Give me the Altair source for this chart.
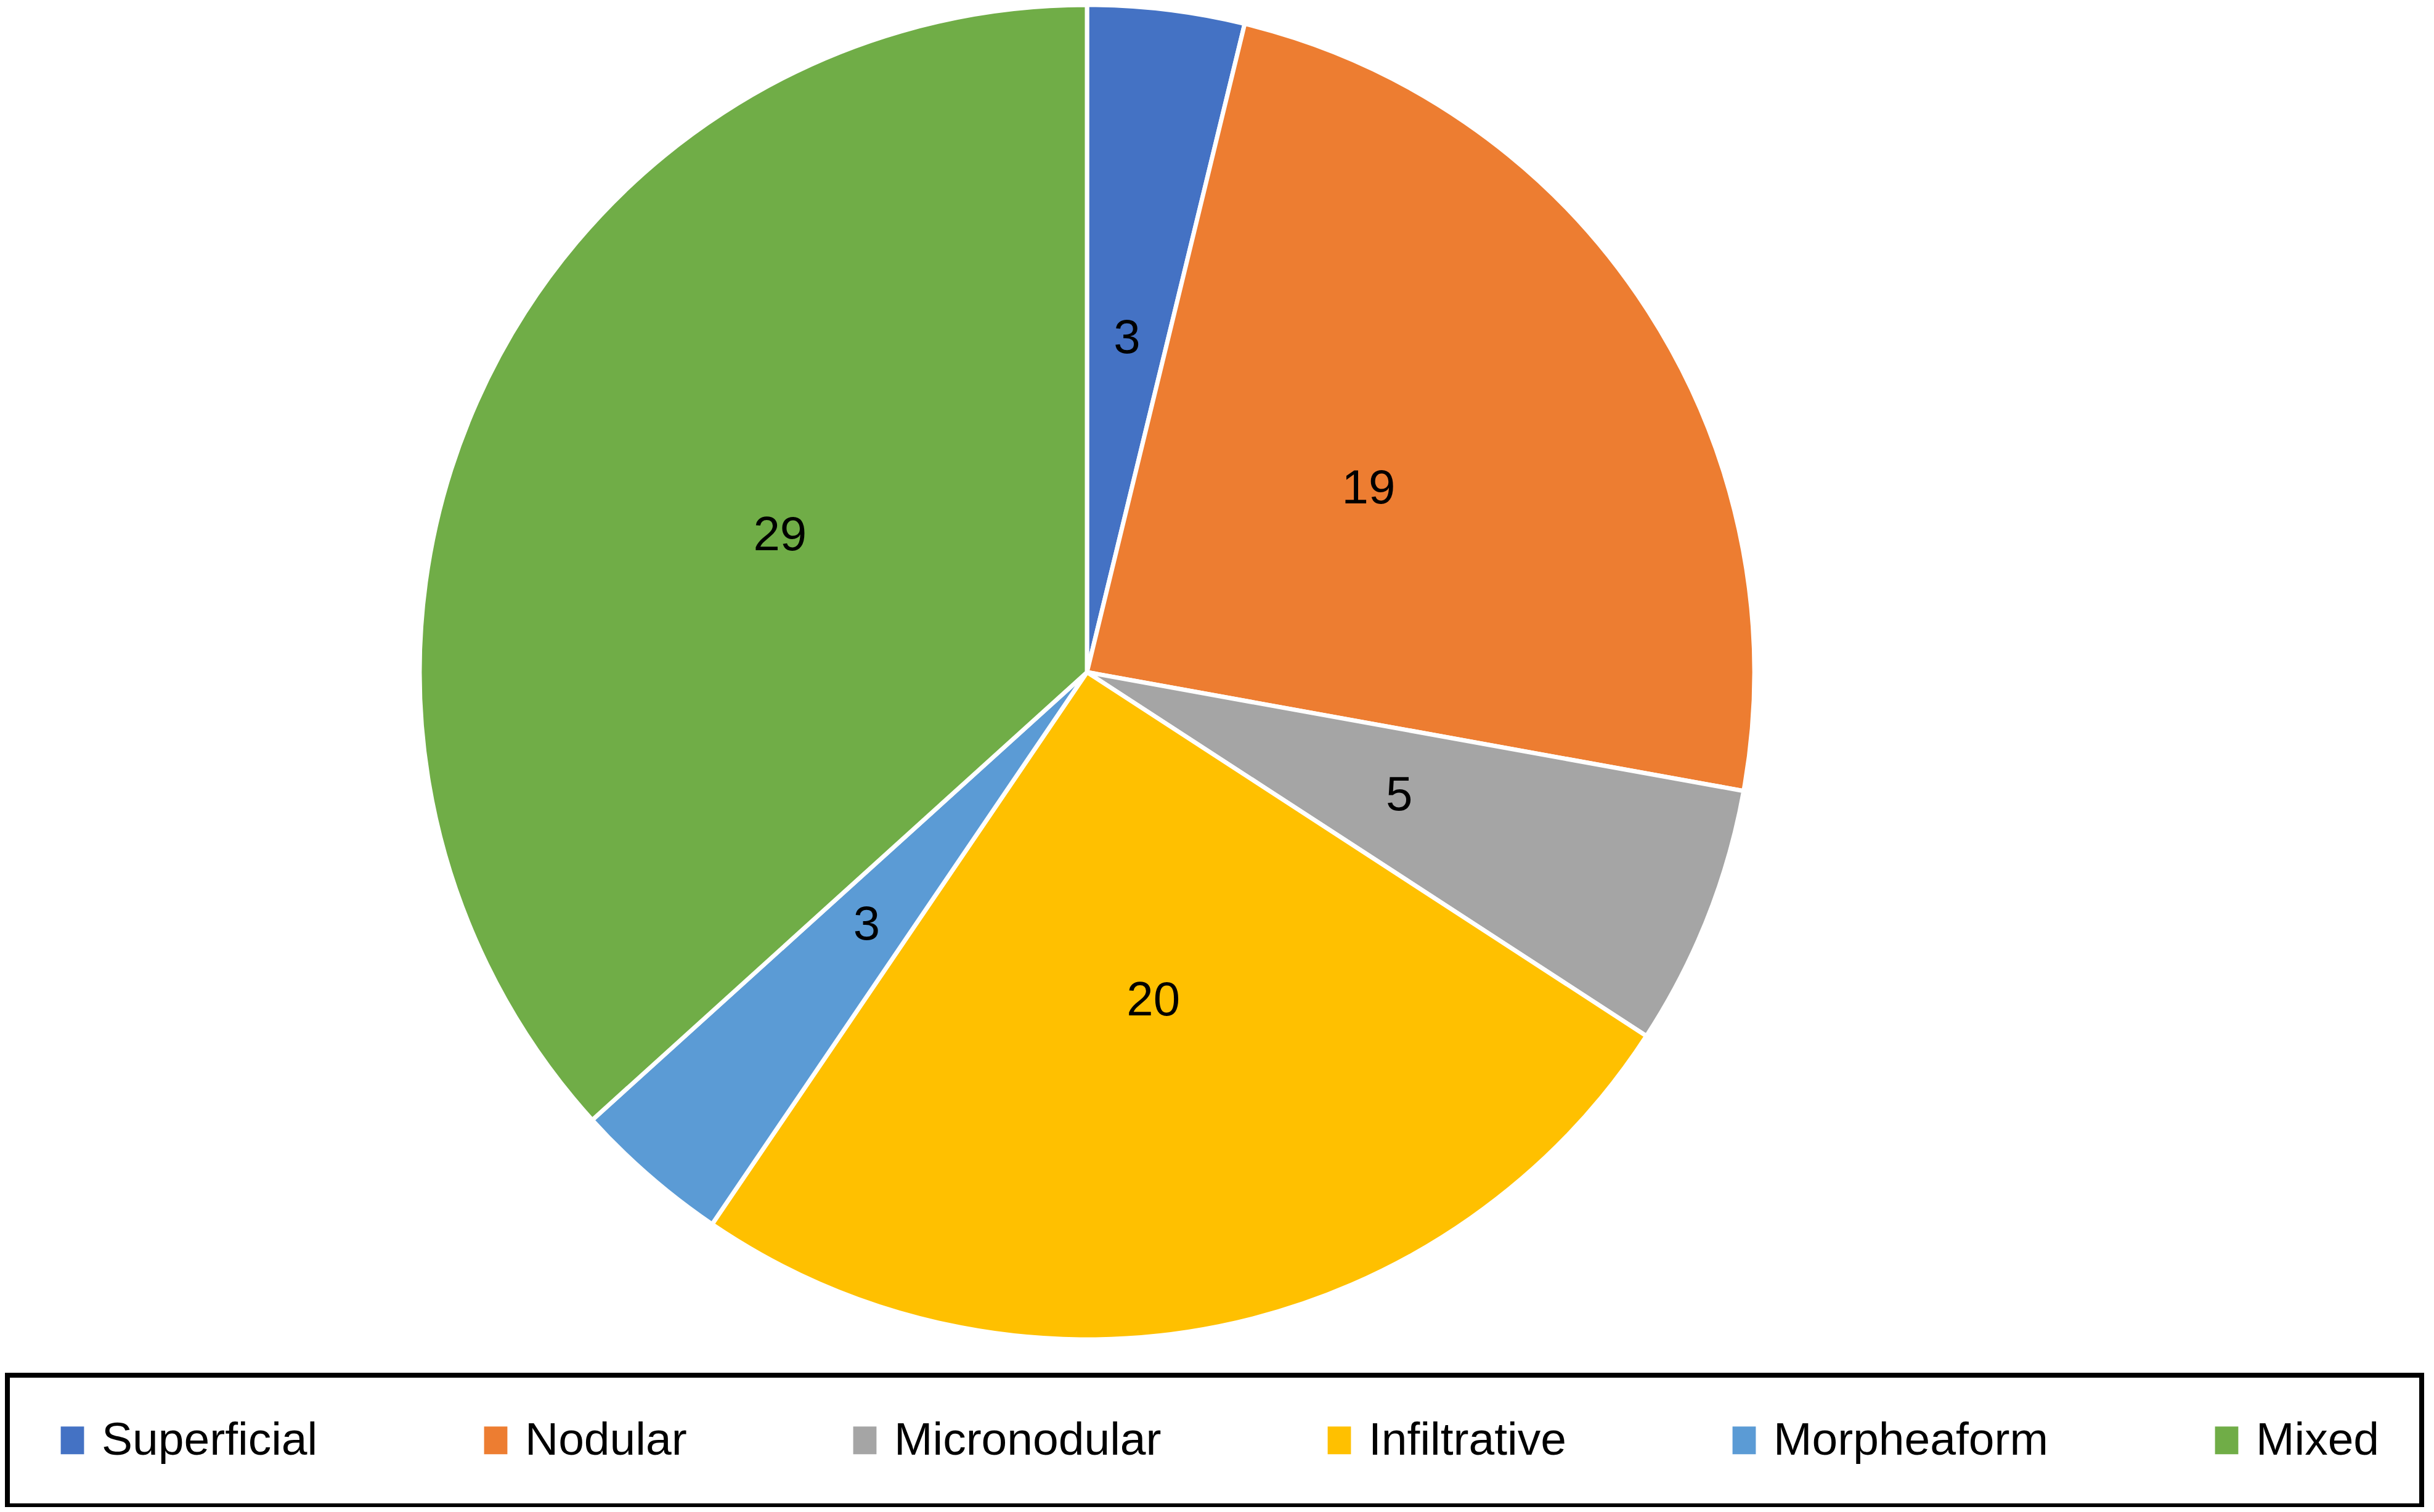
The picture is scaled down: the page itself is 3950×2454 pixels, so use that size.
import altair as alt
import pandas as pd

types = ["Superficial", "Nodular", "Micronodular", "Infiltrative", "Morpheaform", "Mixed"]
counts = [3, 19, 5, 20, 3, 29]
colors = ["#4472C4", "#ED7D31", "#A5A5A5", "#FFC000", "#5B9BD5", "#70AD47"]

df = pd.DataFrame({"type": types, "value": counts, "idx": list(range(len(types)))})

base = alt.Chart(df).encode(
    theta=alt.Theta("value:Q", stack=True),
    order=alt.Order("idx:Q", sort="ascending"),
)

pie = base.mark_arc(outerRadius=1083, stroke="white", strokeWidth=7).encode(
    color=alt.Color(
        "type:N",
        sort=types,
        scale=alt.Scale(domain=types, range=colors),
        legend=alt.Legend(
            title=None,
            orient="none",
            legendX=4,
            legendY=2224,
            direction="horizontal",
            columns=6,
            columnPadding=251,
            symbolType="M-0.84,-1H0.84V1H-0.84Z",
            symbolSize=2025,
            symbolStrokeWidth=0,
            symbolOpacity=1,
            labelFont="Liberation Sans",
            labelFontSize=75,
            labelColor="black",
            labelOffset=10,
            labelLimit=1000,
            padding=68,
            strokeColor="black",
        ),
    )
)

text = base.mark_text(radius=545, fontSize=78, font="Liberation Sans", color="black").encode(
    detail="type:N",
    text=alt.Text("value:Q"),
)

chart = (
    alt.layer(pie, text)
    .properties(
        width=3512,
        height=2166,
        padding={"left": 0, "top": 0, "right": 422, "bottom": 272},
        autosize=alt.AutoSizeParams(type="none"),
    )
    .configure_view(stroke=None)
    .configure_legend(strokeWidth=8)
)

chart.save("out.html", embed_options={"renderer": "svg", "actions": False})
